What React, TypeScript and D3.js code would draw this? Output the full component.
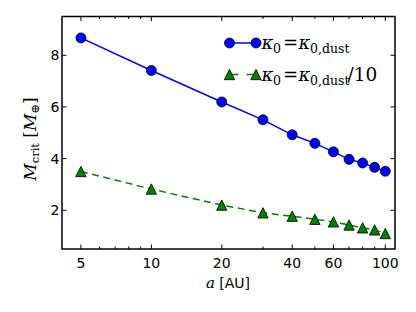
import React from 'react';
import * as d3 from 'd3';

// semi-major axis [AU]
const distances = [5, 10, 20, 30, 40, 50, 60, 70, 80, 90, 100];
// critical core mass [Earth masses]
const massDust = [8.67, 7.41, 6.19, 5.5, 4.92, 4.59, 4.26, 3.97, 3.83, 3.66, 3.51];
const massDust10 = [3.5, 2.82, 2.2, 1.9, 1.77, 1.65, 1.55, 1.43, 1.32, 1.24, 1.1];

const xMajor = [5, 10, 20, 40, 60, 100];
const xMinor = [6, 7, 8, 9, 30, 50, 70, 80, 90];
const yMajor = [2, 4, 6, 8];

const W = 416;
const H = 312;
const left = 62, right = 395, top = 16.5, bottom = 249;

const serif = "'DejaVu Serif', serif";
const sans = "'DejaVu Sans', sans-serif";

function Circle({ cx, cy }: { cx: number; cy: number }) {
  return <circle cx={cx} cy={cy} r={5} fill="#0000ff" stroke="#000" strokeWidth={0.8} />;
}

function Tri({ cx, cy }: { cx: number; cy: number }) {
  const s = 5.2;
  const pts = [[cx, cy - s], [cx - s, cy + s], [cx + s, cy + s]];
  return <polygon points={pts.map(p => p.join(',')).join(' ')} fill="#008000" stroke="#000" strokeWidth={0.8} />;
}

// legend label: kappa_0 = kappa_0,dust (+ optional suffix)
function KappaLabel({ y, suffix }: { y: number; suffix?: string }) {
  const x0 = 261.5;
  return (
    <text y={y} fontFamily={serif} fontSize={18}>
      <tspan x={x0} fontStyle="italic">κ</tspan>
      <tspan x={x0 + 11.5} dy={4} fontSize={12.5}>0</tspan>
      <tspan x={x0 + 21.5} dy={-4}>=</tspan>
      <tspan x={x0 + 37} fontStyle="italic">κ</tspan>
      <tspan x={x0 + 48.5} dy={4} fontSize={12.5}>0,dust</tspan>
      {suffix ? <tspan x={x0 + 86} dy={-4} fontSize={18.5}>{suffix}</tspan> : null}
    </text>
  );
}

export default function App() {
  const x = d3.scaleLog().domain([4.15, 110]).range([left, right]);
  const y = d3.scaleLinear().domain([0.5, 9.5]).range([bottom, top]);

  const line = d3.line<number>().x((_, i) => x(distances[i])).y(d => y(d));

  return (
    <svg width={W} height={H} style={{ position: 'absolute', left: 0, top: 0, background: '#fff' }}>
      {/* series */}
      <path d={line(massDust) || ''} fill="none" stroke="#0000ff" strokeWidth={1.5} />
      <path d={line(massDust10) || ''} fill="none" stroke="#008000" strokeWidth={1.5} strokeDasharray="7 4.5" />
      {massDust.map((d, i) => <Circle key={'c' + i} cx={x(distances[i])} cy={y(d)} />)}
      {massDust10.map((d, i) => <Tri key={'t' + i} cx={x(distances[i])} cy={y(d)} />)}

      {/* ticks, inward on all four sides */}
      {xMajor.map(t => (
        <g key={'xM' + t}>
          <line x1={x(t)} x2={x(t)} y1={bottom} y2={bottom - 4.5} stroke="#000" />
          <line x1={x(t)} x2={x(t)} y1={top} y2={top + 4.5} stroke="#000" />
          <text x={x(t)} y={268} textAnchor="middle" fontFamily={sans} fontSize={14}>{t}</text>
        </g>
      ))}
      {xMinor.map(t => (
        <g key={'xm' + t}>
          <line x1={x(t)} x2={x(t)} y1={bottom} y2={bottom - 2.5} stroke="#000" />
          <line x1={x(t)} x2={x(t)} y1={top} y2={top + 2.5} stroke="#000" />
        </g>
      ))}
      {yMajor.map(t => (
        <g key={'yM' + t}>
          <line x1={left} x2={left + 4.5} y1={y(t)} y2={y(t)} stroke="#000" />
          <line x1={right} x2={right - 4.5} y1={y(t)} y2={y(t)} stroke="#000" />
          <text x={59.5} y={y(t) + 5} textAnchor="end" fontFamily={sans} fontSize={14}>{t}</text>
        </g>
      ))}

      <rect x={left} y={top} width={right - left} height={bottom - top} fill="none" stroke="#000" strokeWidth={1.5} />

      {/* axis labels */}
      <text x={228} y={288} textAnchor="middle" fontSize={14}>
        <tspan fontFamily={serif} fontStyle="italic" fontSize={15}>a</tspan>
        <tspan fontFamily={sans}> [AU]</tspan>
      </text>
      <text transform="translate(35.5,139) rotate(-90)" textAnchor="middle" fontFamily={serif} fontSize={17}>
        <tspan fontStyle="italic">M</tspan>
        <tspan fontSize={11.5} dy={3.5}>crit</tspan>
        <tspan dy={-3.5}> [</tspan>
        <tspan fontStyle="italic">M</tspan>
        <tspan fontSize={11.5} dy={3.5}>⊕</tspan>
        <tspan dy={-3.5}>]</tspan>
      </text>

      {/* legend */}
      <line x1={229.5} x2={256} y1={43} y2={43} stroke="#0000ff" strokeWidth={1.5} />
      <Circle cx={229.5} cy={43} />
      <Circle cx={256} cy={43} />
      <KappaLabel y={48.5} />

      <line x1={229.5} x2={256} y1={74.5} y2={74.5} stroke="#008000" strokeWidth={1.5} strokeDasharray="9 8 10" />
      <Tri cx={229.5} cy={74.5} />
      <Tri cx={256} cy={74.5} />
      <KappaLabel y={80.5} suffix="/10" />
    </svg>
  );
}
